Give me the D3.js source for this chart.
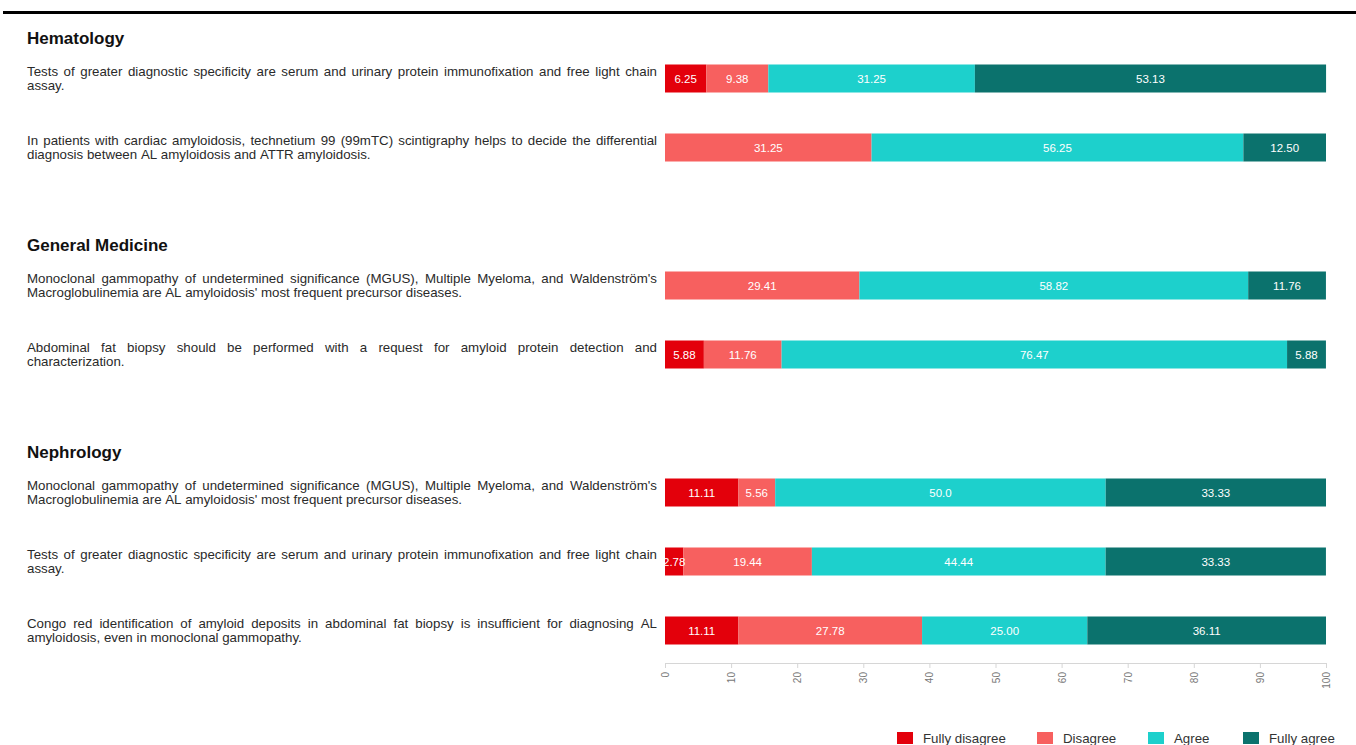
<!DOCTYPE html>
<html>
<head>
<meta charset="utf-8">
<script src="https://cdn.jsdelivr.net/npm/d3@7"></script>
<style>
  html, body { margin: 0; padding: 0; background: #fff; }
  svg { display: block; font-family: "Liberation Sans", Arial, sans-serif; }
</style>
</head>
<body>
<svg id="chart" width="1356" height="745"></svg>
<script>
// ---------- DATA ----------
const groups = ["Hematology", "General Medicine", "Nephrology"];
const categories = ["Fully disagree", "Disagree", "Agree", "Fully agree"];
const colors = ["#e3000b", "#f7605f", "#1dd0cc", "#0b726d"];
const statements = [
  // Hematology
  "Tests of greater diagnostic specificity are serum and urinary protein immunofixation and free light chain assay.",
  "In patients with cardiac amyloidosis, technetium 99 (99mTC) scintigraphy helps to decide the differential diagnosis between AL amyloidosis and ATTR amyloidosis.",
  // General Medicine
  "Monoclonal gammopathy of undetermined significance (MGUS), Multiple Myeloma, and Waldenström's Macroglobulinemia are AL amyloidosis' most frequent precursor diseases.",
  "Abdominal fat biopsy should be performed with a request for amyloid protein detection and characterization.",
  // Nephrology
  "Monoclonal gammopathy of undetermined significance (MGUS), Multiple Myeloma, and Waldenström's Macroglobulinemia are AL amyloidosis' most frequent precursor diseases.",
  "Tests of greater diagnostic specificity are serum and urinary protein immunofixation and free light chain assay.",
  "Congo red identification of amyloid deposits in abdominal fat biopsy is insufficient for diagnosing AL amyloidosis, even in monoclonal gammopathy."
];
const statementGroup = [0, 0, 1, 1, 2, 2, 2];
const fullyDisagree = [6.25, 0, 0, 5.88, 11.11, 2.78, 11.11];
const disagree      = [9.38, 31.25, 29.41, 11.76, 5.56, 19.44, 27.78];
const agree         = [31.25, 56.25, 58.82, 76.47, 50.0, 44.44, 25.00];
const fullyAgree    = [53.13, 12.50, 11.76, 5.88, 33.33, 33.33, 36.11];
const valueLabels = [
  ["6.25", "", "", "5.88", "11.11", "2.78", "11.11"],
  ["9.38", "31.25", "29.41", "11.76", "5.56", "19.44", "27.78"],
  ["31.25", "56.25", "58.82", "76.47", "50.0", "44.44", "25.00"],
  ["53.13", "12.50", "11.76", "5.88", "33.33", "33.33", "36.11"]
];
const tickValues = [0, 10, 20, 30, 40, 50, 60, 70, 80, 90, 100];

// ---------- LAYOUT ----------
const svg = d3.select("#chart");
const x = d3.scaleLinear().domain([0, 100]).range([665, 1326]);
const textLeft = 27, textRight = 657;
const barH = 28;

const headingY = [];
const rowY = [];
let cursor = 38;
groups.forEach((g, gi) => {
  headingY.push(cursor);
  const idx = statementGroup.map((s, i) => s === gi ? i : -1).filter(i => i >= 0);
  idx.forEach((i, k) => { rowY[i] = cursor + 40.5 + k * 69; });
  cursor = rowY[idx[idx.length - 1]] + 97.5;
});

// top rule
svg.append("rect").attr("x", 3).attr("y", 11).attr("width", 1353).attr("height", 3).attr("fill", "#000");

// headings
svg.selectAll("text.heading").data(groups).join("text")
  .attr("class", "heading")
  .attr("x", textLeft).attr("y", (d, i) => headingY[i])
  .attr("dy", "0.35em")
  .attr("font-size", 17).attr("font-weight", "bold").attr("fill", "#111")
  .text(d => d);

// statements with justified wrapping
const fs = 13.3, lineH = 14;
const measurer = svg.append("text").attr("font-size", fs).attr("visibility", "hidden");
function w(s) { measurer.text(s); return measurer.node().getComputedTextLength(); }
const spaceW = w("a b") - w("ab");
const maxW = textRight - textLeft;

statements.forEach((s, i) => {
  const words = s.split(" ");
  const lines = [];
  let cur = [];
  words.forEach(wd => {
    const trial = cur.concat([wd]).join(" ");
    if (cur.length && w(trial) > maxW) { lines.push(cur); cur = [wd]; }
    else cur.push(wd);
  });
  if (cur.length) lines.push(cur);
  const y0 = rowY[i] - (lines.length - 1) * lineH / 2;
  const g = svg.append("g").attr("class", "statement");
  lines.forEach((ln, li) => {
    const isLast = li === lines.length - 1;
    const widths = ln.map(w);
    const total = d3.sum(widths);
    const gap = (!isLast && ln.length > 1) ? (maxW - total) / (ln.length - 1) : spaceW;
    let xx = textLeft;
    ln.forEach((wd, wi) => {
      g.append("text").attr("x", xx).attr("y", y0 + li * lineH).attr("dy", "0.35em")
        .attr("font-size", fs).attr("fill", "#2a2a2a").text(wd);
      xx += widths[wi] + gap;
    });
  });
});
measurer.remove();

// stacked bars
const series = [fullyDisagree, disagree, agree, fullyAgree];
const stacked = statements.map((s, i) => {
  let acc = 0;
  return series.map((arr, c) => {
    const seg = { row: i, cat: c, x0: acc, x1: acc + arr[i], label: valueLabels[c][i] };
    acc += arr[i];
    return seg;
  });
}).flat().filter(d => d.x1 - d.x0 > 0);

svg.selectAll("rect.seg").data(stacked).join("rect")
  .attr("class", "seg")
  .attr("x", d => x(d.x0)).attr("width", d => x(d.x1) - x(d.x0))
  .attr("y", d => rowY[d.row] - barH / 2).attr("height", barH)
  .attr("fill", d => colors[d.cat]);

svg.selectAll("text.seglabel").data(stacked).join("text")
  .attr("class", "seglabel")
  .attr("x", d => (x(d.x0) + x(d.x1)) / 2).attr("y", d => rowY[d.row])
  .attr("dy", "0.35em").attr("text-anchor", "middle")
  .attr("font-size", 11.5).attr("fill", "#fff")
  .text(d => d.label);

// x axis
const axisG = svg.append("g").attr("transform", "translate(0,663)")
  .call(d3.axisBottom(x).tickValues(tickValues).tickSize(5).tickPadding(3));
axisG.select(".domain").attr("stroke", "#d6d6d6");
axisG.selectAll(".tick line").attr("stroke", "#d6d6d6");
axisG.selectAll(".tick text")
  .attr("font-size", 10).attr("fill", "#777").attr("font-family", "Liberation Sans, Arial, sans-serif")
  .attr("transform", "rotate(-90)")
  .attr("text-anchor", "end")
  .attr("x", -9).attr("y", 0).attr("dy", "0.35em");

// legend
const legendX = [897, 1037, 1148, 1243];
const lg = svg.selectAll("g.legend").data(categories).join("g")
  .attr("class", "legend")
  .attr("transform", (d, i) => `translate(${legendX[i]},738)`);
lg.append("rect").attr("x", 0).attr("y", -6).attr("width", 16).attr("height", 12)
  .attr("fill", (d, i) => colors[i]);
lg.append("text").attr("x", 26).attr("y", 0).attr("dy", "0.35em")
  .attr("font-size", 13.3).attr("fill", "#333").text(d => d);
</script>
</body>
</html>
